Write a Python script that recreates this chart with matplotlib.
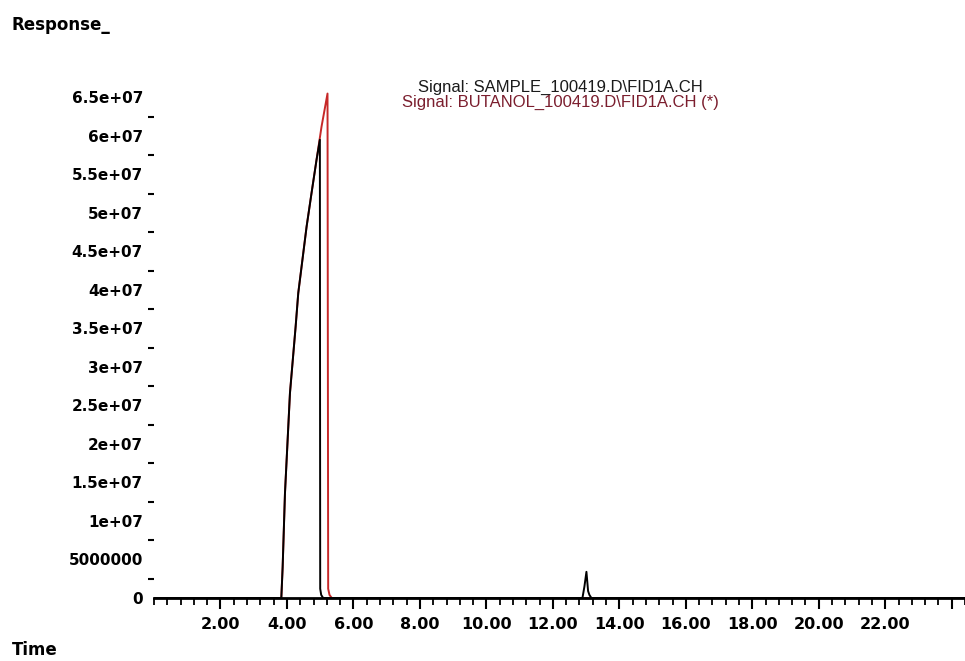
import matplotlib
matplotlib.use("Agg")
import matplotlib.pyplot as plt
from matplotlib.ticker import MultipleLocator

# sample signal (black), time in min, response in counts
sample_t = [0.0, 3.83, 3.87, 3.94, 4.09, 4.26, 4.34, 4.59, 4.74, 4.89, 4.99, 5.00,
            5.03, 5.09, 12.0, 12.89, 12.95, 13.01, 13.06, 13.1, 13.16, 24.4]
sample_y = [0, 0, 4.0e6, 1.36e7, 2.66e7, 3.52e7, 3.96e7, 4.82e7, 5.26e7, 5.69e7, 5.95e7, 1.2e6,
            4.0e5, 0, 0, 0, 1.5e6, 3.4e6, 9.0e5, 4.0e5, 0, 0]

# butanol signal (red)
butanol_t = [0.0, 3.83, 3.87, 3.94, 4.09, 4.26, 4.34, 4.59, 4.74, 4.89, 5.04, 5.22, 5.24,
             5.28, 5.35, 24.4]
butanol_y = [0, 0, 4.0e6, 1.36e7, 2.66e7, 3.52e7, 3.96e7, 4.82e7, 5.26e7, 5.69e7, 6.12e7, 6.55e7, 1.2e6,
             4.0e5, 0, 0]

x_labels = ["2.00", "4.00", "6.00", "8.00", "10.00", "12.00", "14.00", "16.00", "18.00", "20.00", "22.00"]
x_label_pos = [2, 4, 6, 8, 10, 12, 14, 16, 18, 20, 22]
y_ticks = [0, 5e6, 1e7, 1.5e7, 2e7, 2.5e7, 3e7, 3.5e7, 4e7, 4.5e7, 5e7, 5.5e7, 6e7, 6.5e7]
y_labels = ["0", "5000000", "1e+07", "1.5e+07", "2e+07", "2.5e+07", "3e+07", "3.5e+07",
            "4e+07", "4.5e+07", "5e+07", "5.5e+07", "6e+07", "6.5e+07"]

fig = plt.figure(figsize=(9.65, 6.61), dpi=100)
ax = fig.add_axes([0.1596, 0.0953, 0.8404, 0.769])

ax.plot(butanol_t, butanol_y, color="#c62828", lw=1.4)
ax.plot(sample_t, sample_y, color="black", lw=1.4)

ax.set_xlim(0, 24.4)
ax.set_ylim(0, 6.6e7)

for s in ["top", "right", "left"]:
    ax.spines[s].set_visible(False)
ax.spines["bottom"].set_linewidth(2)

ax.xaxis.set_minor_locator(MultipleLocator(0.4))
ax.set_xticks(x_label_pos + [24])
ax.set_xticklabels(x_labels + [""], fontweight="bold")
ax.tick_params(axis="x", which="major", length=8, width=1.5, pad=6, labelsize=11.5)
ax.tick_params(axis="x", which="minor", length=5, width=1.3)

ax.set_yticks(y_ticks)
ax.set_yticklabels(y_labels, fontweight="bold")
ax.yaxis.set_minor_locator(MultipleLocator(2.5e6))
ax.tick_params(axis="y", which="major", length=0, pad=8, labelsize=11)
ax.tick_params(axis="y", which="minor", length=4, width=1.5)

fig.text(0.012, 0.9546, "Response_", fontsize=12, fontweight="bold", ha="left", va="baseline")
fig.text(0.012, 0.0091, "Time", fontsize=12, fontweight="bold", ha="left", va="baseline")
fig.text(0.581, 0.8608, "Signal: SAMPLE_100419.D\\FID1A.CH", fontsize=12, ha="center",
         va="baseline", color="#1a1a1a", family="Liberation Sans")
fig.text(0.581, 0.8381, "Signal: BUTANOL_100419.D\\FID1A.CH (*)", fontsize=12, ha="center",
         va="baseline", color="#7b1e2e", family="Liberation Sans")

fig.savefig("out.png", dpi=100)
